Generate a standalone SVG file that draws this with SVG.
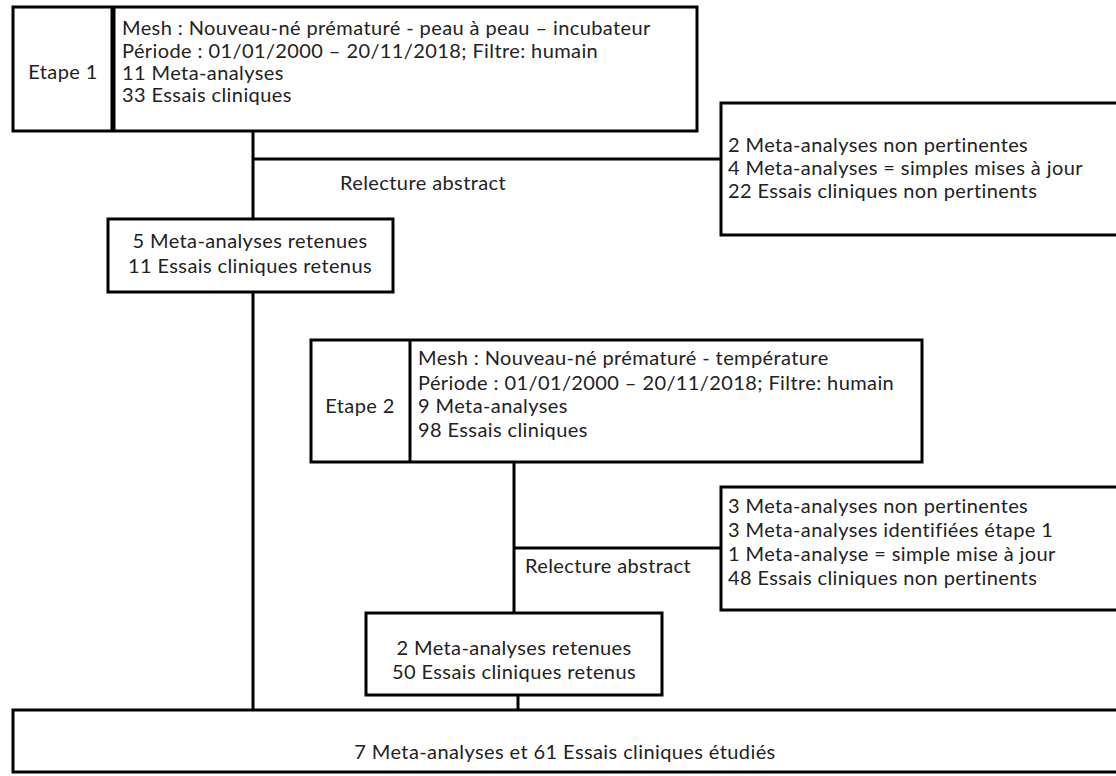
<svg xmlns="http://www.w3.org/2000/svg" width="1116" height="776" viewBox="0 0 1116 776">
<style>
.b{fill:#fff;stroke:#000;stroke-width:3}
.l{fill:none;stroke:#000;stroke-width:3}
text{font-family:Lato,"Open Sans","Liberation Sans",sans-serif;font-size:20px;letter-spacing:0.4px;fill:#222}
.c{text-anchor:middle}
</style>
<rect width="1116" height="776" fill="#fff"/>
<g id="connectors">
<line class="l" x1="253" y1="131" x2="253" y2="219"/>
<line class="l" x1="253" y1="159" x2="721" y2="159"/>
<line class="l" x1="253" y1="292" x2="253" y2="710"/>
<line class="l" x1="514" y1="462" x2="514" y2="613"/>
<line class="l" x1="514" y1="548" x2="721" y2="548"/>
<line class="l" x1="518" y1="695" x2="518" y2="710"/>
</g>
<g id="etape1">
<rect class="b" x="13" y="7" width="684" height="124"/>
<line x1="113" y1="7" x2="113" y2="131" stroke="#000" stroke-width="5"/>
<text x="63" y="79" class="c">Etape 1</text>
<text x="122" y="35">Mesh : Nouveau-né prématuré - peau à peau – incubateur</text>
<text x="122" y="58">Période : 01/01/2000 – 20/11/2018; Filtre: humain</text>
<text x="122" y="80">11 Meta-analyses</text>
<text x="122" y="102">33 Essais cliniques</text>
</g>
<g id="excl1">
<rect class="b" x="721" y="103" width="400" height="132"/>
<text x="728" y="152">2 Meta-analyses non pertinentes</text>
<text x="728" y="175">4 Meta-analyses = simples mises à jour</text>
<text x="728" y="198">22 Essais cliniques non pertinents</text>
</g>
<g id="relecture1"><text x="340" y="190">Relecture abstract</text></g>
<g id="retenues1">
<rect class="b" x="108" y="219" width="285" height="73"/>
<text x="250" y="248" class="c">5 Meta-analyses retenues</text>
<text x="250" y="273" class="c">11 Essais cliniques retenus</text>
</g>
<g id="etape2">
<rect class="b" x="311" y="340" width="611" height="122"/>
<line x1="410" y1="340" x2="410" y2="462" stroke="#000" stroke-width="3"/>
<text x="360" y="413" class="c">Etape 2</text>
<text x="418" y="365">Mesh : Nouveau-né prématuré - température</text>
<text x="418" y="390">Période : 01/01/2000 – 20/11/2018; Filtre: humain</text>
<text x="418" y="413">9 Meta-analyses</text>
<text x="418" y="437">98 Essais cliniques</text>
</g>
<g id="excl2">
<rect class="b" x="721" y="487" width="400" height="123"/>
<text x="728" y="513">3 Meta-analyses non pertinentes</text>
<text x="728" y="537">3 Meta-analyses identifiées étape 1</text>
<text x="728" y="561">1 Meta-analyse = simple mise à jour</text>
<text x="728" y="585">48 Essais cliniques non pertinents</text>
</g>
<g id="relecture2"><text x="525" y="573">Relecture abstract</text></g>
<g id="retenues2">
<rect class="b" x="366" y="613" width="296" height="82"/>
<text x="514" y="655" class="c">2 Meta-analyses retenues</text>
<text x="514" y="679" class="c">50 Essais cliniques retenus</text>
</g>
<g id="final">
<rect class="b" x="13" y="710" width="1110" height="62"/>
<text x="565" y="759" class="c">7 Meta-analyses et 61 Essais cliniques étudiés</text>
</g>
</svg>
